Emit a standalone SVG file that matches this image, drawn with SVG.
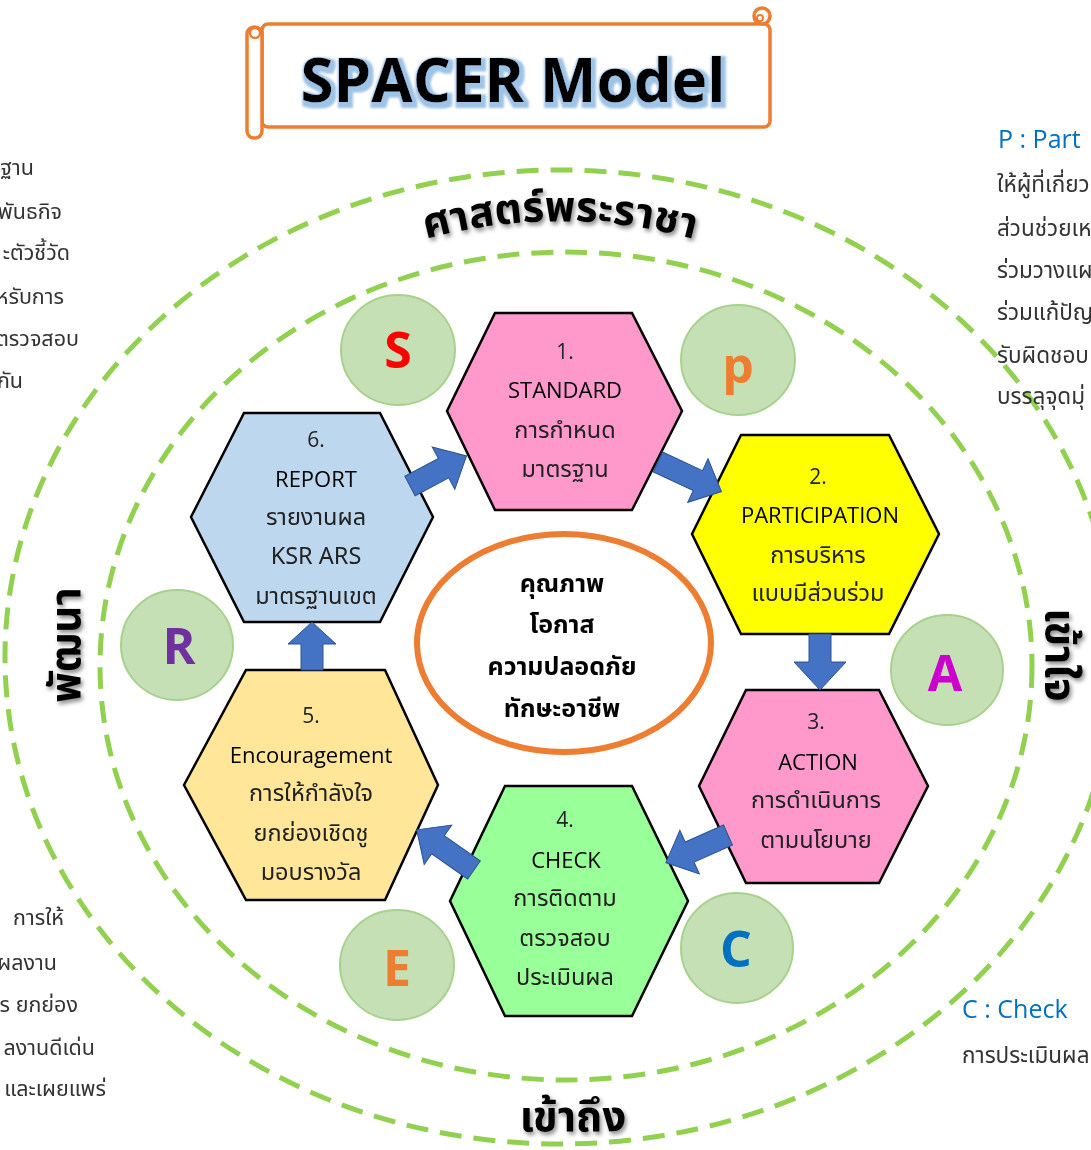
<svg xmlns="http://www.w3.org/2000/svg" width="1091" height="1150" viewBox="0 0 1091 1150">
<defs>
<style>
.hex{stroke:#000;stroke-width:2.5;stroke-linejoin:miter}
.ht{font-family:"Noto Sans Thai","Noto Sans","Open Sans",sans-serif;font-size:23.5px;fill:#222;text-anchor:middle}
.hn{font-family:"Open Sans","Noto Sans",sans-serif;font-size:21px;fill:#222;text-anchor:middle}
.he{font-family:"Open Sans","Noto Sans",sans-serif;font-size:22px;font-weight:500;fill:#000;text-anchor:middle}
.circ{fill:#C5E0B4;stroke:#A9D18E;stroke-width:2}
.letter{font-family:"Open Sans","Noto Sans",sans-serif;font-weight:bold;font-size:50px;text-anchor:middle}
.arrow{fill:#4472C4;stroke:#2F528F;stroke-width:1}
.dash{fill:none;stroke:#92D050;stroke-width:5;stroke-dasharray:22 12}
.side{font-family:"Noto Sans Thai","Noto Sans",sans-serif;font-size:22.5px;fill:#333}
.sidel{font-family:"Noto Sans Thai","Noto Sans",sans-serif;font-size:21.5px;fill:#333}
.sideh{font-family:"Open Sans","Noto Sans",sans-serif;font-size:25px;fill:#0070C0}
.big{font-family:"Noto Sans Thai","Noto Sans",sans-serif;font-weight:bold;font-size:42px;fill:#000}
.ctr{font-family:"Noto Sans Thai","Noto Sans",sans-serif;font-weight:bold;font-size:25px;fill:#000;text-anchor:middle}
.scroll{fill:#fff;stroke:#ED7D31;stroke-width:3.5}
</style>
<filter id="shadow" x="-10%" y="-20%" width="120%" height="150%">
<feDropShadow dx="2" dy="3" stdDeviation="2" flood-color="#000" flood-opacity="0.45"/>
</filter>
<filter id="glow" x="-5%" y="-20%" width="110%" height="150%">
<feMorphology in="SourceAlpha" operator="dilate" radius="2.5" result="d"/>
<feOffset in="d" dx="2" dy="3" result="o"/>
<feGaussianBlur in="o" stdDeviation="1" result="b"/>
<feFlood flood-color="#9DC3E6"/>
<feComposite in2="b" operator="in" result="g"/>
<feMerge><feMergeNode in="g"/><feMergeNode in="SourceGraphic"/></feMerge>
</filter>
<path id="arcTop" d="M 390,250 Q 560,192 730,250"/>
</defs>
<rect width="1091" height="1150" fill="#fff"/>

<!-- dashed rings -->
<ellipse class="dash" cx="560" cy="657" rx="555" ry="487"/>
<ellipse class="dash" cx="566" cy="666" rx="466" ry="414"/>

<!-- title scroll -->
<g id="title">
<rect class="scroll" x="262" y="24" width="508" height="103" rx="6"/>
<circle class="scroll" cx="762" cy="16" r="8"/>
<circle fill="none" stroke="#ED7D31" stroke-width="2" cx="760" cy="18" r="3"/>
<rect class="scroll" x="247" y="27" width="15" height="111" rx="7"/>
<circle fill="none" stroke="#ED7D31" stroke-width="2.5" cx="255" cy="33" r="5"/>
<text x="513" y="102" font-family="Open Sans,Noto Sans,sans-serif" font-weight="bold" font-size="60" text-anchor="middle" fill="#000" textLength="425" lengthAdjust="spacingAndGlyphs" filter="url(#glow)">SPACER Model</text>
</g>

<!-- ring labels -->
<g id="ring-labels" filter="url(#shadow)">
<text class="big"><textPath href="#arcTop" startOffset="50%" text-anchor="middle">ศาสตร์พระราชา</textPath></text>
<text class="big" x="573" y="1131" text-anchor="middle">เข้าถึง</text>
<text class="big" text-anchor="middle" transform="translate(80,645) rotate(-90)">พัฒนา</text>
<text class="big" text-anchor="middle" transform="translate(1046,655) rotate(90)">เข้าใจ</text>
</g>

<!-- side texts -->
<g id="side-left-top" class="sidel" text-anchor="end">
<text x="34" y="175">ฐาน</text>
<text x="62" y="219">พันธกิจ</text>
<text x="70" y="260">ะตัวชี้วัด</text>
<text x="64" y="304">หรับการ</text>
<text x="79" y="346">ตรวจสอบ</text>
<text x="23" y="388">กัน</text>
</g>
<g id="side-left-bottom" class="sidel" text-anchor="end">
<text x="64" y="925">การให้</text>
<text x="57" y="970">ผลงาน</text>
<text x="78" y="1012">ร ยกย่อง</text>
<text x="95" y="1055">ลงานดีเด่น</text>
<text x="106" y="1096">และเผยแพร่</text>
</g>
<g id="side-right-top">
<text class="sideh" x="998" y="148">P : Part</text>
<g class="side">
<text x="997" y="192">ให้ผู้ที่เกี่ยว</text>
<text x="997" y="236">ส่วนช่วยเห</text>
<text x="997" y="278">ร่วมวางแผ</text>
<text x="997" y="320">ร่วมแก้ปัญ</text>
<text x="997" y="363">รับผิดชอบ</text>
<text x="997" y="404">บรรลุจุดมุ่</text>
</g>
</g>
<g id="side-right-bottom">
<text class="sideh" x="962" y="1018">C : Check</text>
<text class="side" x="962" y="1063">การประเมินผล</text>
</g>

<!-- letter circles -->
<g id="circle-S"><ellipse class="circ" cx="398" cy="350" rx="57" ry="55"/><text class="letter" x="398" y="368" fill="#FF0000">S</text></g>
<g id="circle-P"><ellipse class="circ" cx="738" cy="360" rx="57" ry="55"/><text class="letter" x="738" y="383" fill="#ED7D31">p</text></g>
<g id="circle-A"><ellipse class="circ" cx="947" cy="670" rx="56" ry="55"/><text class="letter" x="945" y="691" fill="#CC00CC">A</text></g>
<g id="circle-C"><ellipse class="circ" cx="737" cy="948" rx="56" ry="55"/><text class="letter" x="736" y="967" fill="#0070C0">C</text></g>
<g id="circle-E"><ellipse class="circ" cx="397" cy="965" rx="57" ry="55"/><text class="letter" x="397" y="986" fill="#ED7D31">E</text></g>
<g id="circle-R"><ellipse class="circ" cx="177" cy="645" rx="56" ry="55"/><text class="letter" x="179" y="664" fill="#7030A0">R</text></g>

<!-- center -->
<g id="center">
<ellipse cx="564" cy="643" rx="147" ry="109" fill="#fff" stroke="#ED7D31" stroke-width="6"/>
<text class="ctr" x="562" y="592">คุณภาพ</text>
<text class="ctr" x="562" y="633">โอกาส</text>
<text class="ctr" x="562" y="675">ความปลอดภัย</text>
<text class="ctr" x="562" y="717">ทักษะอาชีพ</text>
</g>

<!-- hexagons -->
<g id="node-1">
<polygon class="hex" fill="#FF99CC" points="447,411 495,313 632,313 682,411 632,510 495,510"/>
<text class="hn" x="565" y="359">1.</text>
<text class="he" x="565" y="398">STANDARD</text>
<text class="ht" x="565" y="438">การกำหนด</text>
<text class="ht" x="565" y="477">มาตรฐาน</text>
</g>
<g id="node-2">
<polygon class="hex" fill="#FFFF00" points="692,534 741,435 889,435 939,534 889,634 741,634"/>
<text class="hn" x="818" y="484">2.</text>
<text class="he" x="820" y="523">PARTICIPATION</text>
<text class="ht" x="818" y="563">การบริหาร</text>
<text class="ht" x="818" y="601">แบบมีส่วนร่วม</text>
</g>
<g id="node-3">
<polygon class="hex" fill="#FF99CC" points="699,786 746,690 879,690 928,786 879,883 746,883"/>
<text class="hn" x="816" y="729">3.</text>
<text class="he" x="818" y="770">ACTION</text>
<text class="ht" x="816" y="808">การดำเนินการ</text>
<text class="ht" x="816" y="848">ตามนโยบาย</text>
</g>
<g id="node-4">
<polygon class="hex" fill="#99FF99" points="450,901 505,786 632,786 688,901 632,1016 505,1016"/>
<text class="hn" x="565" y="827">4.</text>
<text class="he" x="566" y="868">CHECK</text>
<text class="ht" x="565" y="906">การติดตาม</text>
<text class="ht" x="565" y="946">ตรวจสอบ</text>
<text class="ht" x="565" y="985">ประเมินผล</text>
</g>
<g id="node-5">
<polygon class="hex" fill="#FFE699" points="184,785 246,670 385,670 438,785 385,900 246,900"/>
<text class="hn" x="311" y="723">5.</text>
<text class="he" x="311" y="763">Encouragement</text>
<text class="ht" x="311" y="801">การให้กำลังใจ</text>
<text class="ht" x="311" y="841">ยกย่องเชิดชู</text>
<text class="ht" x="311" y="880">มอบรางวัล</text>
</g>
<g id="node-6">
<polygon class="hex" fill="#BDD7EE" points="191,517 244,413 380,413 433,517 380,622 244,622"/>
<text class="hn" x="316" y="447">6.</text>
<text class="he" x="316" y="487">REPORT</text>
<text class="ht" x="316" y="525">รายงานผล</text>
<text class="ht" x="316" y="564">KSR ARS</text>
<text class="ht" x="316" y="604">มาตรฐานเขต</text>
</g>

<!-- connectors -->
<g id="connectors">
<path class="arrow" transform="translate(410,486) rotate(-28)" d="M0,-11 H38 V-24 L64,0 L38,24 V11 H0 Z"/>
<path class="arrow" transform="translate(658,462) rotate(25)" d="M0,-11 H44 V-24 L70,0 L44,24 V11 H0 Z"/>
<path class="arrow" transform="translate(820,634) rotate(90)" d="M0,-11 H28 V-26 L56,0 L28,26 V11 H0 Z"/>
<path class="arrow" transform="translate(728,835) rotate(156)" d="M0,-11 H42 V-24 L68,0 L42,24 V11 H0 Z"/>
<path class="arrow" transform="translate(474,870) rotate(-145)" d="M0,-11 H44 V-24 L70,0 L44,24 V11 H0 Z"/>
<path class="arrow" transform="translate(312,670) rotate(-90)" d="M0,-11 H26 V-24 L48,0 L26,24 V11 H0 Z"/>
</g>
</svg>
